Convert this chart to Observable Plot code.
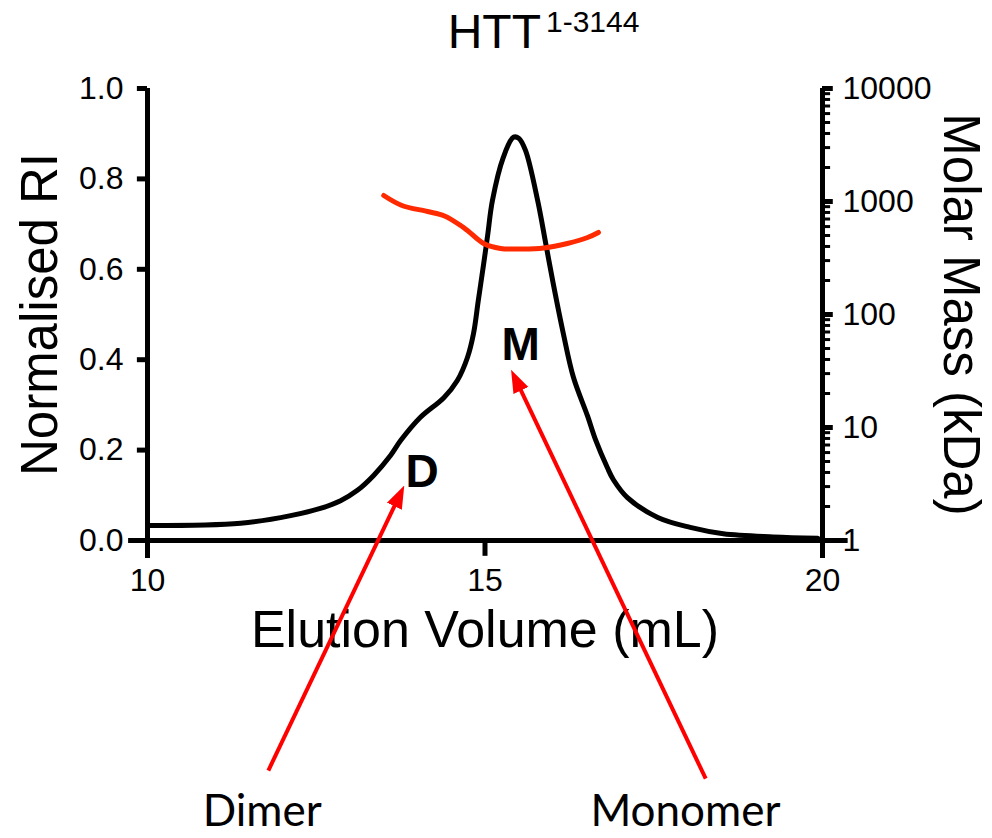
<!DOCTYPE html>
<html>
<head>
<meta charset="utf-8">
<script src="https://cdn.jsdelivr.net/npm/d3@7"></script>
<script src="https://cdn.jsdelivr.net/npm/@observablehq/plot@0.6"></script>
<style>
  html, body { margin: 0; padding: 0; background: #fff; }
  #chart svg { display: block; }
</style>
</head>
<body>
<div id="chart"></div>
<script>
// Normalised RI trace (black)
const riVolume = [10.0, 11.38, 12.12, 12.56, 12.86, 13.11, 13.35, 13.60, 13.75, 14.04, 14.39, 14.59, 14.74, 14.83, 14.90, 14.98, 15.04, 15.11, 15.27, 15.42, 15.50, 15.60, 15.78, 15.90, 16.01, 16.16, 16.31, 16.52, 16.64, 16.81, 16.90, 17.11, 17.56, 18.04, 18.53, 19.27, 19.93];
const riValue  = [0.033, 0.038, 0.055, 0.071, 0.088, 0.111, 0.144, 0.188, 0.221, 0.272, 0.316, 0.354, 0.405, 0.458, 0.530, 0.612, 0.676, 0.752, 0.847, 0.892, 0.890, 0.863, 0.752, 0.657, 0.569, 0.458, 0.361, 0.275, 0.222, 0.162, 0.135, 0.095, 0.051, 0.029, 0.015, 0.008, 0.005];

// Molar mass trace (red, kDa, log axis on the right)
const mmVolume = [13.50, 13.77, 14.15, 14.40, 14.64, 14.74, 14.98, 15.23, 15.55, 15.87, 16.22, 16.52, 16.68];
const mmValue  = [1130, 922, 816, 745, 613, 554, 425, 384, 380, 388, 425, 480, 532];

// Axis ticks
const xTicks = [10, 15, 20];
const riTicks = [0, 0.2, 0.4, 0.6, 0.8, 1.0];
const mmTicks = [1, 10, 100, 1000, 10000];
const mmMinorTicks = [1, 10, 100, 1000].flatMap(d => [2,3,4,5,6,7,8,9].map(k => k * d));

// Annotations
const peakLabels = [
  {label: "D", volume: 14.07, ri: 0.150},
  {label: "M", volume: 15.53, ri: 0.431}
];
const arrowTail = [[11.79, -0.509], [18.27, -0.527]];
const arrowHead = [[13.76, 0.108], [15.43, 0.364]];
const speciesNames = ["Dimer", "Monomer"];
const speciesVolume = [11.70, 17.97];
const speciesRi = -0.600;

// Map molar mass onto the shared vertical scale (log decades 1..10000 -> 0..1)
const mm2y = v => Math.log10(v) / 4;

const ri = riVolume.map((v, i) => ({v, y: riValue[i]}));
const mm = mmVolume.map((v, i) => ({v, y: mm2y(mmValue[i])}));
const arrows = arrowTail.map((t, i) => ({x1: t[0], y1: t[1], x2: arrowHead[i][0], y2: arrowHead[i][1]}));
const species = speciesNames.map((n, i) => ({n, v: speciesVolume[i], y: speciesRi}));

const font = "'Liberation Sans', Arial, sans-serif";

// filled triangular arrowhead marker
const triangleHead = (color) => d3.create("svg:marker")
  .attr("viewBox", "0 -5 10 10")
  .attr("refX", 7)
  .attr("refY", 0)
  .attr("markerUnits", "userSpaceOnUse")
  .attr("markerWidth", 23)
  .attr("markerHeight", 23)
  .attr("orient", "auto")
  .attr("fill", color)
  .attr("stroke", "none")
  .call(m => m.append("path").attr("d", "M0,-3.6L10,0L0,3.6Z"))
  .node();

const chart = Plot.plot({
  width: 992,
  height: 838,
  marginTop: 88,
  marginBottom: 298,
  marginLeft: 147,
  marginRight: 170,
  style: {fontFamily: font, background: "white", overflow: "visible"},
  x: {type: "linear", domain: [10, 20], axis: null},
  y: {type: "linear", domain: [0, 1], axis: null},
  marks: [
    // data traces
    Plot.line(ri, {x: "v", y: "y", stroke: "black", strokeWidth: 5, curve: "catmull-rom"}),
    Plot.line(mm, {x: "v", y: "y", stroke: "#ff2a00", strokeWidth: 5, curve: "catmull-rom", strokeLinecap: "round"}),

    // left axis
    Plot.ruleX([10], {y1: 1, y2: -0.04, strokeWidth: 5}),
    // bottom axis line
    Plot.ruleY([0], {x1: 9.72, x2: 20.38, strokeWidth: 5}),
    Plot.ruleX([15], {y1: 0, y2: -0.035, strokeWidth: 5}),
    // right axis
    Plot.ruleX([20], {y1: 1, y2: -0.04, strokeWidth: 5}),

    // left ticks as short rules
    Plot.ruleY(riTicks, {y: d => d, x1: 9.85, x2: 10, strokeWidth: 5}),
    // right major / minor ticks
    Plot.ruleY(mmTicks, {y: d => mm2y(d), x1: 20, x2: 20.16, strokeWidth: 5}),
    Plot.ruleY(mmMinorTicks, {y: d => mm2y(d), x1: 20, x2: 20.12, strokeWidth: 3}),

    // tick labels
    Plot.text(riTicks, {x: () => 10, y: d => d, text: d => d.toFixed(1), textAnchor: "end", dx: -24, fontSize: 32, fill: "black"}),
    Plot.text(xTicks, {x: d => d, y: () => 0, text: d => String(d), dy: 40, fontSize: 32, fill: "black"}),
    Plot.text(mmTicks, {x: () => 20, y: d => mm2y(d), text: d => String(d), textAnchor: "start", dx: 20, fontSize: 32, fill: "black"}),

    // axis titles
    Plot.text(["Normalised RI"], {frameAnchor: "left", dx: -107, rotate: -90, textAnchor: "middle", lineAnchor: "middle", fontSize: 51, fill: "black"}),
    Plot.text(["Elution Volume (mL)"], {frameAnchor: "bottom", dy: 90, textAnchor: "middle", lineAnchor: "middle", fontSize: 52, fill: "black"}),
    Plot.text(["Molar Mass (kDa)"], {frameAnchor: "right", dx: 138, rotate: 90, textAnchor: "middle", lineAnchor: "middle", fontSize: 51, fill: "black"}),

    // title
    Plot.text(["HTT"], {frameAnchor: "top", dx: 56, dy: -56, textAnchor: "end", lineAnchor: "middle", fontSize: 48, fill: "black"}),
    Plot.text(["1-3144"], {frameAnchor: "top", dx: 61, dy: -66, textAnchor: "start", lineAnchor: "middle", fontSize: 30, fill: "black"}),

    // peak labels
    Plot.text(peakLabels, {x: "volume", y: "ri", text: "label", fontSize: 46, fontWeight: "bold", fill: "black"}),

    // arrows and species names
    Plot.link(arrows, {x1: "x1", y1: "y1", x2: "x2", y2: "y2", stroke: "#ff0000", strokeWidth: 4, markerEnd: triangleHead}),
    Plot.text(species, {x: "v", y: "y", text: "n", fontSize: 44, fontFamily: "Lato, 'Open Sans', sans-serif", fill: "black"})
  ]
});

document.getElementById("chart").appendChild(chart);
</script>
</body>
</html>
